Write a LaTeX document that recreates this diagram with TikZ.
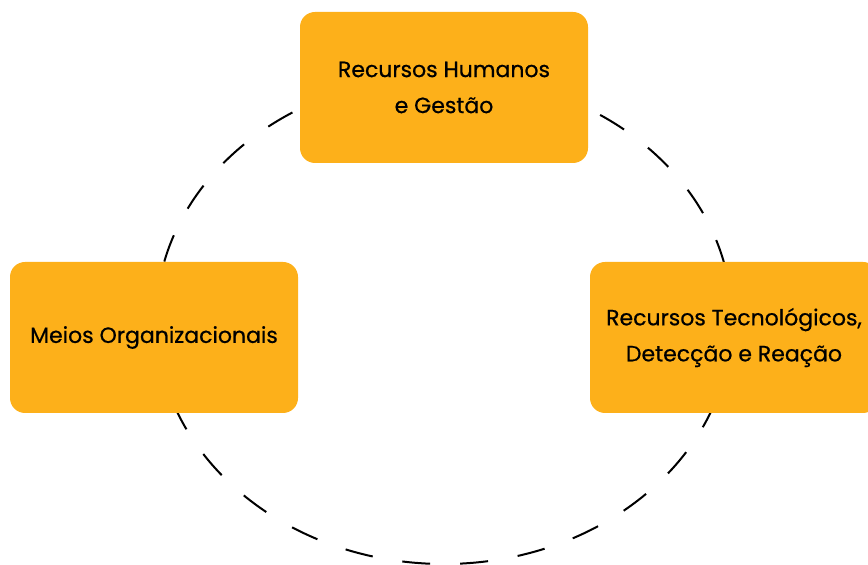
\documentclass[tikz,border=0pt]{standalone}
\usepackage{fontspec}
\setmainfont{Poppins}
\newfontfamily\pillarfont{Poppins}[FakeBold=0.6]
\usetikzlibrary{positioning}
\definecolor{pillarfill}{RGB}{253,176,26}

\begin{document}
\begin{tikzpicture}[x=1pt, y=1pt,
    pillar/.style={rectangle, rounded corners=15pt, fill=pillarfill,
      minimum width=288pt, minimum height=151pt, align=center,
      font=\pillarfont\fontsize{22}{36}\selectfont},
    ring/.style={draw=black, line width=2pt, dash pattern=on 28pt off 30pt, dash phase=4pt}
  ]
  \useasboundingbox (0,0) rectangle (868,565);
  \clip (0,0) rectangle (868,565);
  % dashed ring behind the three boxes
  \coordinate (centre) at (444,245);
  \draw[ring] (centre) ellipse [x radius=288, y radius=244];
  % boxes
  \node[pillar] (people) at (444,477.5) {Recursos Humanos\\e Gestão};
  \node[pillar] (org) at (154,227.5) {Meios Organizacionais};
  \node[pillar] (tech) at (734,227.5) {Recursos Tecnológicos,\\Detecção e Reação};
\end{tikzpicture}
\end{document}
